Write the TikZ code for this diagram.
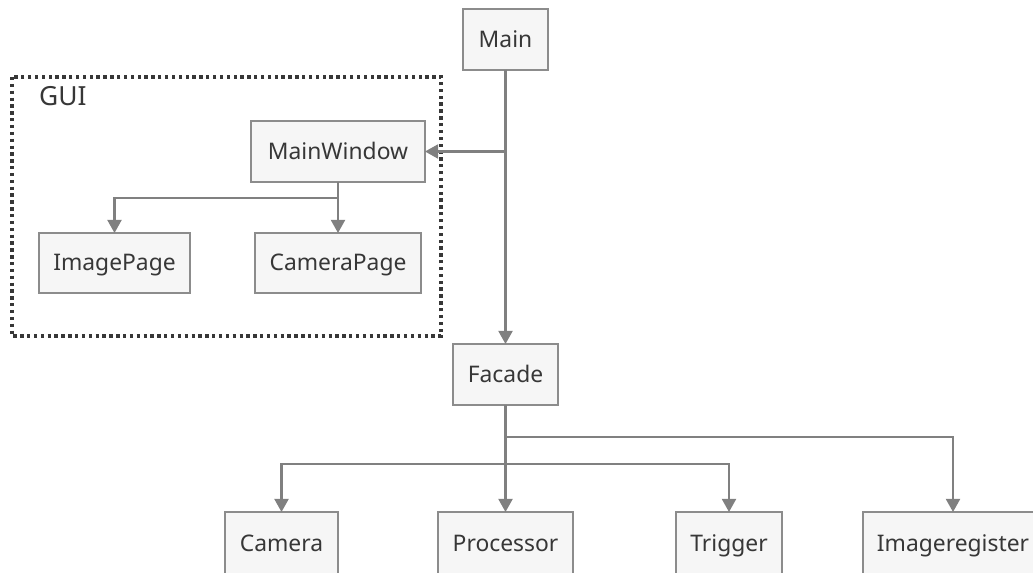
\documentclass[tikz,border=0pt]{standalone}
\usepackage{fontspec}
\setmainfont{Noto Sans}
\usetikzlibrary{arrows.meta, positioning}

\definecolor{linegray}{RGB}{128,128,128}
\definecolor{boxgray}{RGB}{140,140,140}
\definecolor{boxfill}{RGB}{246,246,246}
\definecolor{textgray}{RGB}{55,55,55}

\tikzset{
	classbox/.style={draw=boxgray, fill=boxfill, line width=1.1pt, inner sep=0pt, outer sep=0pt,
		minimum height=1.22cm, text height=9.5pt, text depth=0.5pt, text=textgray, font=\fontsize{13}{15}\selectfont},
	conn/.style={draw=linegray, line width=1.3pt, -{Triangle[length=7.5pt, width=8pt]}}
}

\begin{document}
\begin{tikzpicture}[x=0.02cm, y=-0.02cm]
				\useasboundingbox (0,0) rectangle (1033,572);
				
				%% Pacote GUI
				\draw [dotted, line width=1.9pt, textgray] (12,77) rectangle (441,336);
				\node [anchor=base west, text=textgray, font=\fontsize{15}{17}\selectfont] (gui) at (33,105) {GUI};
				
				%% Classes
				\node [classbox, minimum width=1.70cm] (main) at (505.5,39.5) {Main};
				\node [classbox, minimum width=3.48cm] (mainwindow) at (338,151.5) {MainWindow};
				\node [classbox, minimum width=3.02cm, minimum height=1.20cm] (imagepage) at (114.5,263) {ImagePage};
				\node [classbox, minimum width=3.32cm, minimum height=1.20cm] (camerapage) at (338,263) {CameraPage};
				\node [classbox, minimum width=2.10cm] (facade) at (505.5,374.5) {Facade};
				
				\node [classbox, minimum width=2.26cm, minimum height=1.26cm] (camera) at (281.5,543.5) {Camera};
				\node [classbox, minimum width=2.70cm, minimum height=1.26cm] (processor) at (505.5,543.5) {Processor};
				\node [classbox, minimum width=2.12cm, minimum height=1.26cm] (trigger) at (729,543.5) {Trigger};
				\node [classbox, minimum width=3.60cm, minimum height=1.26cm] (imageregister) at (953,543.5) {Imageregister};
				
				%% Ligações de Main
				\draw [conn] (main) -- (facade);
				\draw [conn] (main.south |- mainwindow.east) -- (mainwindow.east);
				
				%% Ligações de MainWindow
				\draw [conn] (mainwindow) -- (camerapage);
				\draw [conn] (mainwindow.south) -- ++(0,16) -| (imagepage.north);
				
				%% Ligações de Facade
				\draw [conn] (facade) -- (processor);
				\draw [conn] (facade.south) -- ++(0,32) -| (imageregister.north);
				\coordinate (fork) at (facade.south |- 0,464);
				\draw [conn] (fork) -| (camera.north);
				\draw [conn] (fork) -| (trigger.north);
				
			\end{tikzpicture}
\end{document}
